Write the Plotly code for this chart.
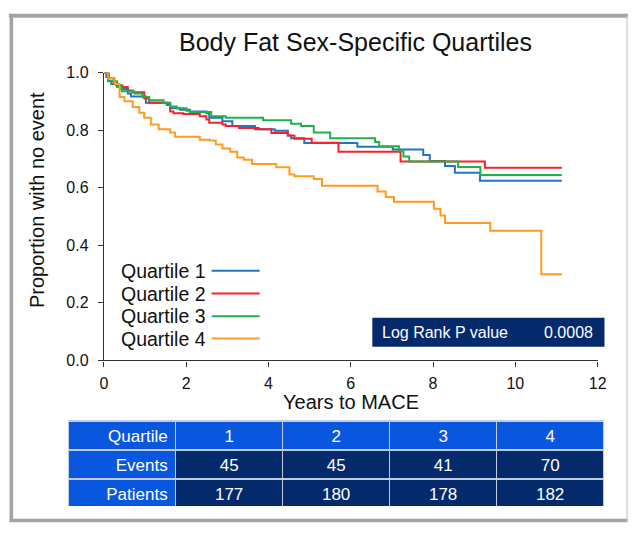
import plotly.graph_objects as go

W, H = 637, 533

# ---- data ----
series_names = ["Quartile 1", "Quartile 2", "Quartile 3", "Quartile 4"]
series_colors = ["#2474c4", "#f5222d", "#1fb24a", "#ff9b21"]

q1_t = [0, 0.06, 0.1, 0.18, 0.3, 0.42, 0.58, 0.66, 1.02, 1.53, 1.61, 1.85, 2.09, 2.49, 2.56, 2.88, 3.12,
        3.67, 4.15, 4.47, 4.55, 4.87, 6.16, 7.02, 7.76, 7.92, 8.29, 8.53, 9.14, 11.13]
q1_s = [1.0, 0.985, 0.971, 0.96, 0.955, 0.943, 0.927, 0.917, 0.895, 0.887, 0.876, 0.871, 0.865, 0.859, 0.843,
        0.831, 0.814, 0.803, 0.798, 0.781, 0.772, 0.755, 0.742, 0.733, 0.714, 0.693, 0.675, 0.652, 0.624, 0.624]

q2_t = [0, 0.12, 0.24, 0.36, 0.45, 0.58, 0.70, 0.98, 1.1, 1.61, 1.69, 1.93, 2.33, 2.49, 2.56, 2.88, 2.96,
        3.28, 3.76, 4.07, 4.47, 4.63, 5.05, 5.70, 7.21, 9.26, 11.13]
q2_s = [1.0, 0.98, 0.96, 0.955, 0.95, 0.938, 0.932, 0.91, 0.895, 0.865, 0.859, 0.856, 0.848, 0.837, 0.826,
        0.82, 0.814, 0.807, 0.803, 0.79, 0.781, 0.77, 0.756, 0.725, 0.691, 0.669, 0.669]

q3_t = [0, 0.1, 0.32, 0.44, 0.74, 0.93, 1.1, 1.45, 1.61, 1.77, 2.01, 2.09, 2.61, 2.96, 3.87, 4.55, 4.79,
        5.1, 5.5, 6.59, 6.69, 7.17, 7.28, 7.42, 8.61, 9.15, 11.13]
q3_s = [1.0, 0.97, 0.95, 0.935, 0.927, 0.915, 0.904, 0.893, 0.882, 0.876, 0.867, 0.863, 0.848, 0.843, 0.834,
        0.822, 0.814, 0.792, 0.772, 0.759, 0.744, 0.727, 0.708, 0.691, 0.672, 0.644, 0.644]

q4_t = [0, 0.1, 0.26, 0.38, 0.5, 0.7, 0.86, 0.98, 1.14, 1.33, 1.61, 1.73, 2.33, 2.57, 2.72, 2.88, 3.07,
        3.24, 3.4, 3.6, 4.19, 4.51, 4.63, 5.1, 5.3, 6.65, 6.85, 7.05, 8.02, 8.18, 8.29, 9.39, 10.63, 11.13]
q4_s = [1.0, 0.98, 0.96, 0.915, 0.90, 0.88, 0.86, 0.843, 0.82, 0.803, 0.792, 0.777, 0.767, 0.764, 0.75,
        0.736, 0.725, 0.705, 0.697, 0.682, 0.671, 0.646, 0.64, 0.63, 0.607, 0.587, 0.568, 0.551, 0.527,
        0.503, 0.477, 0.45, 0.299, 0.299]

x_ticks = [0, 2, 4, 6, 8, 10, 12]
y_ticks = [0.0, 0.2, 0.4, 0.6, 0.8, 1.0]

table_header = ["Quartile", "1", "2", "3", "4"]
row_labels = ["Events", "Patients"]
events = [45, 45, 41, 70]
patients = [177, 180, 178, 182]

p_label = "Log Rank P value"
p_value = "0.0008"

# ---- helpers (pixel -> paper, paper = whole figure since margins are 0) ----
def X(px):
    return px / W

def Y(py):
    return 1 - py / H

FONT = "Arial, Liberation Sans, sans-serif"
BRIGHT = "#0a57df"
NAVY = "#042a6c"

fig = go.Figure()

for name, col, t, s in zip(series_names, series_colors, [q1_t, q2_t, q3_t, q4_t], [q1_s, q2_s, q3_s, q4_s]):
    fig.add_trace(go.Scatter(x=t, y=s, mode="lines", line=dict(color=col, width=2, shape="hv"),
                             name=name, showlegend=False, cliponaxis=False))

columns = [row_labels] + [[e, p] for e, p in zip(events, patients)]
fig.add_trace(go.Table(
    domain=dict(x=[X(66), X(613)], y=[Y(515), Y(426.5)]),
    columnwidth=[1, 1, 1, 1, 1],
    header=dict(values=table_header, fill_color=BRIGHT, height=29,
                align=["right", "center", "center", "center", "center"],
                font=dict(family=FONT, size=17, color="white"),
                line=dict(color="#c3cbe0", width=1.5)),
    cells=dict(values=columns, height=29,
               fill_color=[[BRIGHT] * 2] + [[NAVY] * 2] * 4,
               align=["right", "center", "center", "center", "center"],
               font=dict(family=FONT, size=17, color="white"),
               line=dict(color="#c3cbe0", width=1.5)),
))

axis_common = dict(showline=True, linecolor="#333333", linewidth=1.3, ticks="outside", ticklen=5,
                   tickcolor="#333333", tickwidth=1.3, showgrid=False, zeroline=False,
                   tickfont=dict(family=FONT, size=16, color="#111111"))
fig.update_layout(
    width=W, height=H, autosize=False,
    margin=dict(l=0, r=0, t=0, b=0),
    paper_bgcolor="white", plot_bgcolor="white",
    showlegend=False,
    xaxis=dict(domain=[X(102), X(606)], range=[0, 12], tickvals=x_ticks, ticklabelstandoff=3, **axis_common),
    yaxis=dict(domain=[Y(364), Y(66.7)], range=[0, 1], tickvals=y_ticks, tickformat=".1f",
               ticklabelstandoff=6, **axis_common),
)

ann = []
ann.append(dict(text="Body Fat Sex-Specific Quartiles", x=X(359), y=Y(35), xref="paper", yref="paper",
                showarrow=False, xanchor="center", yanchor="middle", font=dict(family=FONT, size=25, color="#111111")))
ann.append(dict(text="Years to MACE", x=X(354), y=Y(407), xref="paper", yref="paper",
                showarrow=False, xanchor="center", yanchor="middle", font=dict(family=FONT, size=20, color="#111111")))
ann.append(dict(text="Proportion with no event", x=X(33), y=Y(198), xref="paper", yref="paper", textangle=-90,
                showarrow=False, xanchor="center", yanchor="middle", font=dict(family=FONT, size=20, color="#111111")))

shapes = []
leg_y = [271.3, 295, 318.3, 341.5]
for name, col, ly in zip(series_names, series_colors, leg_y):
    ann.append(dict(text=name, x=X(117), y=Y(ly), xref="paper", yref="paper", showarrow=False,
                    xanchor="left", yanchor="middle", font=dict(family=FONT, size=19.5, color="#111111")))
    shapes.append(dict(type="line", xref="paper", yref="paper", x0=X(212), x1=X(261), y0=Y(ly), y1=Y(ly),
                       line=dict(color=col, width=2)))

# log rank box
shapes.append(dict(type="rect", xref="paper", yref="paper", x0=X(376), x1=X(613), y0=Y(350), y1=Y(320),
                   fillcolor=NAVY, line=dict(width=0), layer="above"))
ann.append(dict(text=p_label, x=X(384), y=Y(335), xref="paper", yref="paper", showarrow=False,
                xanchor="left", yanchor="middle", font=dict(family=FONT, size=16, color="white")))
ann.append(dict(text=p_value, x=X(603), y=Y(335), xref="paper", yref="paper", showarrow=False,
                xanchor="right", yanchor="middle", font=dict(family=FONT, size=16, color="white")))

# outer frame
frame = "#a3a3a3"
shapes.append(dict(type="line", xref="paper", yref="paper", x0=X(5), x1=X(637), y0=Y(8), y1=Y(8),
                   line=dict(color=frame, width=4)))
shapes.append(dict(type="line", xref="paper", yref="paper", x0=X(7.5), x1=X(7.5), y0=Y(6), y1=Y(531),
                   line=dict(color=frame, width=3.5)))
shapes.append(dict(type="line", xref="paper", yref="paper", x0=X(6), x1=X(637), y0=Y(529.3), y1=Y(529.3),
                   line=dict(color=frame, width=3.5)))
shapes.append(dict(type="line", xref="paper", yref="paper", x0=X(636), x1=X(636), y0=Y(8), y1=Y(531),
                   line=dict(color="#c8c8c8", width=1.2)))

fig.update_layout(annotations=ann, shapes=shapes)

fig.write_html(
    "out.html",
    config={"displayModeBar": False},
    post_script=(
        "document.documentElement.style.margin='0';document.body.style.margin='0';"
        "document.body.style.overflow='hidden';document.documentElement.style.overflow='hidden';"
        "var d=document.getElementById('{plot_id}');d.style.position='absolute';"
        "d.style.left='0px';d.style.top='0px';"
    ),
)
